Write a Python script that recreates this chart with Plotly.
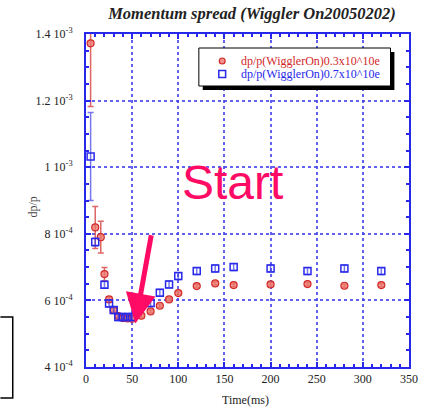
import plotly.graph_objects as go

# ---- data (dp/p in units of 1e-4) ----
t_low = [5, 10, 16, 20, 25, 30, 35, 40, 45, 50, 60, 70, 80, 90, 100, 120, 140, 160, 200, 240, 280, 320]
dp_low = [13.72, 8.19, 7.90, 6.79, 6.03, 5.71, 5.53, 5.47, 5.46, 5.45, 5.54, 5.67, 5.84, 6.03, 6.22,
          6.43, 6.51, 6.46, 6.48, 6.49, 6.44, 6.46]
err_low = [1.9, 0.63, 0.48, 0.2, 0.08, 0.06, 0.05, 0.05, 0.05, 0.05, 0.05, 0.05, 0.05, 0.05, 0.05,
           0.05, 0.05, 0.05, 0.05, 0.05, 0.05, 0.05]

t_high = [5, 10, 20, 25, 30, 35, 40, 45, 50, 70, 80, 90, 100, 120, 140, 160, 200, 240, 280, 320]
dp_high = [10.32, 7.75, 6.47, 5.91, 5.71, 5.50, 5.50, 5.50, 5.50, 5.92, 6.23, 6.48, 6.73, 6.88,
           6.96, 7.00, 6.96, 6.88, 6.96, 6.88]
err_high = [1.32, 0.12, 0.1, 0.1, 0.1, 0.1, 0.1, 0.1, 0.1, 0.1, 0.1, 0.1, 0.1, 0.1,
            0.1, 0.1, 0.1, 0.1, 0.1, 0.1]

x_ticks = [0, 50, 100, 150, 200, 250, 300, 350]
y_tickvals = [4, 6, 8, 10, 12, 14]
y_ticktext = ["4 10<sup>-4</sup>", "6 10<sup>-4</sup>", "8 10<sup>-4</sup>",
              "1 10<sup>-3</sup>", "1.2 10<sup>-3</sup>", "1.4 10<sup>-3</sup>"]
label_low = "dp/p(WigglerOn)0.3x10^10e"
label_high = "dp/p(WigglerOn)0.7x10^10e"

S = 1e-4
BLUE = "rgb(40,40,235)"
RED = "rgb(210,40,40)"
PINK = "#ff0a64"
SERIF = "Liberation Serif, Times New Roman, serif"

fig = go.Figure()
fig.add_trace(go.Scatter(
    x=t_low, y=[v * S for v in dp_low], mode="markers", name=label_low, showlegend=False,
    marker=dict(symbol="circle", size=7, color="rgba(235,120,110,0.8)", line=dict(color=RED, width=1.2)),
    error_y=dict(type="data", array=[e * S for e in err_low], color="rgba(210,50,50,0.75)", thickness=1.5, width=3),
))
fig.add_trace(go.Scatter(
    x=t_high, y=[v * S for v in dp_high], mode="markers", name=label_high, showlegend=False,
    marker=dict(symbol="square-open", size=7, color=BLUE, line=dict(color=BLUE, width=1.5)),
    error_y=dict(type="data", array=[e * S for e in err_high], color="rgba(60,60,230,0.7)", thickness=1.5, width=3),
))

L, R, T, B = 86, 10, 34, 47
W, H = 428, 414
pw, ph = W - L - R, H - T - B

def px(x):
    return (x - L) / pw

def py(y):
    return 1 - (y - T) / ph

axis_common = dict(
    showline=True, linecolor=BLUE, linewidth=2, mirror="ticks",
    ticks="inside", ticklen=5, tickcolor=BLUE, tickwidth=1.5,
    showgrid=True, gridcolor="rgba(70,70,235,0.85)", griddash="dot", gridwidth=1.5,
    zeroline=False,
    tickfont=dict(family=SERIF, size=12, color="#222"),
)

fig.update_xaxes(range=[0, 350], tickvals=x_ticks,
                 minor=dict(ticks="inside", dtick=10, ticklen=3, tickcolor=BLUE, showgrid=False),
                 **axis_common)
fig.update_yaxes(range=[4 * S, 14 * S], tickvals=[v * S for v in y_tickvals], ticktext=y_ticktext,
                 ticklabelstandoff=9,
                 minor=dict(ticks="inside", dtick=0.5 * S, ticklen=3, tickcolor=BLUE, showgrid=False),
                 **axis_common)

# manual legend box geometry (pixels)
lx0, lx1, ly0, ly1 = 202, 399, 48, 86
row1, row2 = 61, 74
sym_x, txt_x = 226, 243

shapes = [
    dict(type="rect", xref="paper", yref="paper", x0=px(lx0 + 4), x1=px(lx1 + 4), y0=py(ly1 + 4), y1=py(ly0 + 4),
         fillcolor="black", line=dict(width=0), layer="above"),
    dict(type="rect", xref="paper", yref="paper", x0=px(lx0), x1=px(lx1), y0=py(ly1), y1=py(ly0),
         fillcolor="white", line=dict(color="black", width=1), layer="above"),
    dict(type="circle", xref="paper", yref="paper", x0=px(sym_x - 3), x1=px(sym_x + 3), y0=py(row1 + 3), y1=py(row1 - 3),
         fillcolor="rgba(235,120,110,0.8)", line=dict(color=RED, width=1.2), layer="above"),
    dict(type="rect", xref="paper", yref="paper", x0=px(sym_x - 3.5), x1=px(sym_x + 3.5), y0=py(row2 + 3.5), y1=py(row2 - 3.5),
         fillcolor="rgba(0,0,0,0)", line=dict(color=BLUE, width=1.5), layer="above"),
    dict(type="path", xref="paper", yref="paper",
         path=f"M {px(-2)},{py(317)} L {px(10.7)},{py(317)} L {px(10.7)},{py(398)} L {px(-2)},{py(398)}",
         line=dict(color="black", width=1.5)),
]

fig.update_layout(
    width=W, height=H,
    margin=dict(l=L, r=R, t=T, b=B),
    paper_bgcolor="white", plot_bgcolor="white",
    title=dict(text="<b><i>Momentum spread (Wiggler On20050202)</i></b>",
               x=252 / W, xanchor="center", y=1 - 13 / H, yanchor="middle",
               font=dict(family=SERIF, size=16.5, color="#222")),
    showlegend=False,
    shapes=shapes,
    annotations=[
        dict(text=label_low, xref="paper", yref="paper", x=px(txt_x), y=py(row1), showarrow=False,
             xanchor="left", yanchor="middle", font=dict(family=SERIF, size=12, color=RED)),
        dict(text=label_high, xref="paper", yref="paper", x=px(txt_x), y=py(row2), showarrow=False,
             xanchor="left", yanchor="middle", font=dict(family=SERIF, size=12, color=BLUE)),
        dict(text="Time(ms)", xref="paper", yref="paper", x=px(250), y=py(400), showarrow=False,
             font=dict(family=SERIF, size=12, color="#222"), xanchor="center", yanchor="middle"),
        dict(text="dp/p", xref="paper", yref="paper", x=px(32), y=py(207), showarrow=False, textangle=-90,
             font=dict(family=SERIF, size=12, color="#444"), xanchor="center", yanchor="middle"),
        dict(text="Start", x=159, y=9.54 * S, showarrow=False,
             font=dict(family="Liberation Sans, Arial, sans-serif", size=48, color=PINK)),
        dict(text="", x=53.5, y=5.31 * S, ax=71, ay=8.0 * S, axref="x", ayref="y",
             showarrow=True, arrowhead=2, arrowsize=1.2, arrowwidth=5, arrowcolor=PINK, standoff=0),
    ],
)

fig.write_html("out.html")
